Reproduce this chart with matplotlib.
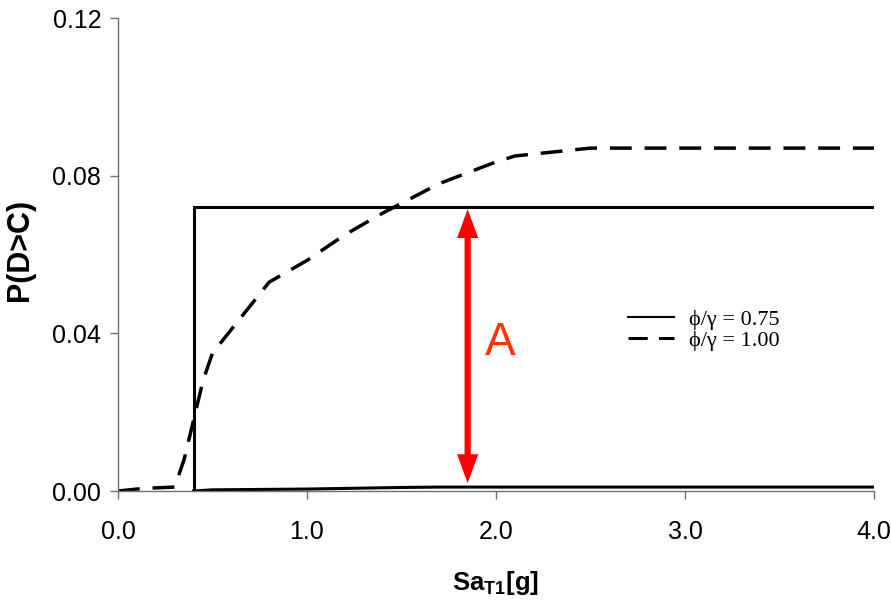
import matplotlib
matplotlib.use("Agg")
import matplotlib.pyplot as plt

# phi/gamma = 0.75 : step curve and near-zero curve
step_x = [0.4, 0.4, 4.0]
step_y = [0.0, 0.072, 0.072]
low_x = [0.4, 0.5, 1.0, 1.5, 1.7, 2.0, 3.0, 4.0]
low_y = [0.0, 0.0003, 0.0005, 0.0009, 0.001, 0.001, 0.001, 0.001]

# phi/gamma = 1.00 : dashed curve
dash_x = [0.0, 0.1, 0.2, 0.3, 0.35, 0.4, 0.45, 0.5, 0.6, 0.8, 1.0, 1.2, 1.4, 1.7, 2.0, 2.1, 2.5, 3.0, 4.0]
dash_y = [0.0, 0.0005, 0.0008, 0.001, 0.008, 0.018, 0.028, 0.035, 0.041, 0.053, 0.0585,
          0.065, 0.0705, 0.078, 0.0835, 0.085, 0.087, 0.087, 0.087]

arrow_x = 1.85
arrow_y = (0.002, 0.0715)

xticks = [0.0, 1.0, 2.0, 3.0, 4.0]
yticks = [0.00, 0.04, 0.08, 0.12]

plt.rcParams["mathtext.fontset"] = "custom"
plt.rcParams["mathtext.bf"] = "Liberation Sans:bold"

fig = plt.figure(figsize=(8.91, 6.01), dpi=100)
ax = fig.add_axes([0.1324, 0.183, 0.8486, 0.787])

ax.plot(step_x, step_y, color="black", lw=2.2, solid_joinstyle="miter")
l1, = ax.plot(low_x, low_y, color="black", lw=2.2)
l2, = ax.plot(dash_x, dash_y, color="black", lw=2.5, dashes=(6.3, 3.7))

ax.annotate("", xy=(arrow_x, arrow_y[1]), xytext=(arrow_x, arrow_y[0]),
            arrowprops=dict(arrowstyle="<|-|>,head_length=0.6,head_width=0.22",
                            color="red", lw=4.5, mutation_scale=20,
                            shrinkA=0, shrinkB=0, joinstyle="miter"))
ax.text(2.02, 0.0375, "A", color="#ff3300", fontsize=33, family="Liberation Sans",
        ha="center", va="center")

leg = ax.legend([l1, l2], ["\u03d5/\u03b3 = 0.75", "\u03d5/\u03b3 = 1.00"],
                loc="upper left", bbox_to_anchor=(0.66, 0.407), frameon=False,
                handlelength=2.07, handletextpad=0.68, labelspacing=0.0, borderpad=0,
                prop=dict(family=["Liberation Serif", "DejaVu Serif"], size=16))
leg.get_lines()[0].set_linewidth(1.5)
leg.get_lines()[1].set_linewidth(2.2)

ax.set_xlim(0, 4.0)
ax.set_ylim(0, 0.12)
ax.set_xticks(xticks)
ax.set_yticks(yticks)
ax.set_xticklabels(["%.1f" % v for v in xticks])
ax.set_yticklabels(["%.2f" % v for v in yticks])
for s in ["top", "right"]:
    ax.spines[s].set_visible(False)
for s in ["left", "bottom"]:
    ax.spines[s].set_color("#707070")
    ax.spines[s].set_linewidth(1.0)
ax.tick_params(axis="both", direction="out", length=6, width=1.0, color="#707070",
               labelsize=18)
ax.tick_params(axis="x", pad=15)
ax.tick_params(axis="y", pad=6)
for lab in ax.get_xticklabels() + ax.get_yticklabels():
    lab.set_family("Liberation Sans")

ax.set_xlabel("Sa$_{\\mathbf{T1}}$[g]", fontsize=18.5, fontweight="bold",
              family="Liberation Sans")
ax.xaxis.set_label_coords(0.5, -0.165)
ax.set_ylabel("P(D>C)", fontsize=22, fontweight="bold", family="Liberation Sans")
ax.yaxis.set_label_coords(-0.11, 0.51)

fig.savefig("out.png", dpi=100)
